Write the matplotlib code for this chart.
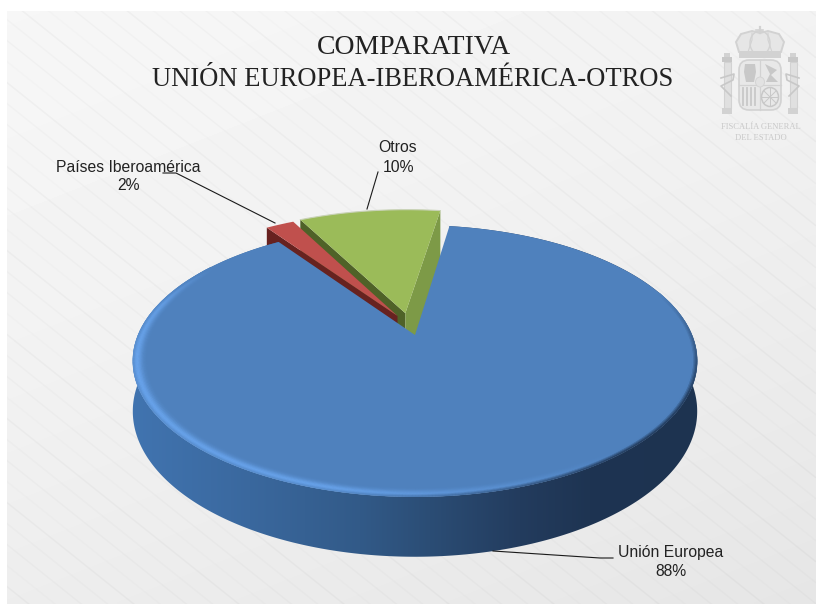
import numpy as np
import matplotlib
matplotlib.use("Agg")
import matplotlib.pyplot as plt
from matplotlib.collections import LineCollection, PolyCollection
from matplotlib.patches import Ellipse, FancyBboxPatch, Polygon, Rectangle

# Data
categories = ["Unión Europea", "Países Iberoamérica", "Otros"]
shares = [88, 2, 10]
top_colors = ["#4f81bd", "#c0504d", "#9bbb59"]
label_lines = ["COMPARATIVA", "UNIÓN EUROPEA-IBEROAMÉRICA-OTROS"]
crest_lines = ["FISCALÍA GENERAL", "DEL ESTADO"]

# Slices pulled out of the pie, as shifts on the unit disk
slice_shift = {"Unión Europea": (0.0, 0.0),
               "Países Iberoamérica": (-0.065, 0.15),
               "Otros": (-0.036, 0.172)}

# Pie projection: a unit disk seen through a simple perspective camera
CX, CY = 415.0, 335.0
A, B, K = 277.0, 130.9, 0.191
THICK = 48.5
START = 8.5  # compass angle of the first slice edge, clockwise


def project(u, v):
    w = 1 + K * v
    return CX + A * u / w, CY - B * v / w, THICK / w


def disk(theta_deg, r=1.0):
    t = np.radians(theta_deg)
    return r * np.sin(t), r * np.cos(t)


def hexrgb(c):
    return np.array(matplotlib.colors.to_rgb(c))


def slice_top(a0, a1, off, n=160):
    th = np.linspace(a0, a1, n)
    u, v = disk(th)
    sx, sy, _ = project(np.r_[off[0], u + off[0]], np.r_[off[1], v + off[1]])
    return np.column_stack([sx, sy])


def edge_face(theta, off, depth=1.25):
    # The lower part of a cut face runs behind the blue slice, which hides it
    u, v = disk(theta)
    x0, y0, t0 = project(off[0], off[1])
    x1, y1, t1 = project(u + off[0], v + off[1])
    return [(x0, y0), (x1, y1), (x1, y1 + depth * t1), (x0, y0 + depth * t0)]


fig = plt.figure(figsize=(8.16, 6.10), dpi=100, facecolor="white")
ax = fig.add_axes([0, 0, 1, 1])
ax.set_xlim(0, 816)
ax.set_ylim(610, 0)
ax.axis("off")

# Textured paper panel
gx, gy = np.meshgrid(np.linspace(0, 1, 200), np.linspace(0, 1, 150))
shade = 0.965 - 0.065 * (0.35 * gx + 0.65 * gy) ** 1.4
ax.imshow(shade, extent=(7, 816, 604, 11), cmap="gray", vmin=0, vmax=1,
          aspect="auto", zorder=0, interpolation="bilinear")
segs, alphas = [], []
for i, b in enumerate(np.arange(-700, 640, 21.0)):
    segs.append([(0, b), (816, b + 816 * 0.80)])
    alphas.append((0.5, 0.5, 0.5, (0.025, 0.06, 0.035, 0.045)[i % 4]))
streaks = LineCollection(segs, colors=alphas, linewidths=1.1, zorder=1)
ax.add_collection(streaks)
streaks.set_clip_path(Rectangle((7, 11), 809, 593, transform=ax.transData))

# Angular extents follow the shares, clockwise from START
angles = np.cumsum([0] + [s * 3.6 for s in shares]) + START
spans = {c: (angles[i], angles[i + 1]) for i, c in enumerate(categories)}
color_of = dict(zip(categories, top_colors))

# Green slice: both cut faces, the top, and a pale outer edge
c = "Otros"
off = slice_shift[c]
ax.add_patch(Polygon(edge_face(spans[c][0], off), color="#4f6228", zorder=2, lw=0))
ax.add_patch(Polygon(edge_face(spans[c][1], off), color="#7d9a47", zorder=2, lw=0))
ax.add_patch(Polygon(slice_top(*spans[c], off), color=color_of[c], zorder=3, lw=0))
arc = slice_top(*spans[c], off)[1:]
ax.plot(arc[:, 0], arc[:, 1], color="#c9d2b8", lw=0.8, zorder=3)

# Red slice
c = "Países Iberoamérica"
off = slice_shift[c]
ax.add_patch(Polygon(edge_face(spans[c][0], off), color="#672220", zorder=4, lw=0))
ax.add_patch(Polygon(slice_top(*spans[c], off), color=color_of[c], zorder=5, lw=0))

# Blue slice: outer wall, a horizontal gradient clipped to the wall outline
c = "Unión Europea"
a0, a1 = spans[c]
th = np.linspace(a0, a1, 700)
u, v = disk(th)
sx, sy, st = project(u, v)
stops_x = [132, 250, 360, 430, 520, 590, 700]
stops_c = np.array([hexrgb(h) for h in
                    ["#4174b0", "#3a689e", "#325a88", "#2b4d75", "#233c5e", "#1e3452", "#1d3350"]])
grad_x = np.linspace(125, 705, 400)
grad = np.stack([np.interp(grad_x, stops_x, stops_c[:, k]) for k in range(3)], axis=-1)[None, :, :]
wall = ax.imshow(grad, extent=(125, 705, 565, 220), aspect="auto", zorder=6, interpolation="bilinear")
wall_outline = np.vstack([np.column_stack([sx, sy]), np.column_stack([sx, sy + st])[::-1]])
wall.set_clip_path(Polygon(wall_outline, transform=ax.transData))
ax.add_patch(Polygon(slice_top(a0, a1, (0, 0), 700), color=color_of[c], zorder=7, lw=0))

# Bevelled rim: a bright lip on the lit side, soft falloff on the shaded side
top_rgb = hexrgb(color_of[c])
glow = hexrgb("#69a4ec")
radii = np.linspace(0.945, 1.0, 14)
rim_th = np.linspace(70, 305, 420)
quads, cols = [], []
for j in range(len(radii) - 1):
    rm = (radii[j] + radii[j + 1]) / 2
    sigma = 0.018 if rm < 0.987 else 0.014
    lip = np.exp(-((rm - 0.987) / sigma) ** 2)
    fall = np.clip((rm - 0.985) / 0.015, 0, 1)
    for i in range(len(rim_th) - 1):
        am = (rim_th[i] + rim_th[i + 1]) / 2
        lit = np.interp(am, [140, 195, 262, 285, 305], [0, 0.95, 1, 0.8, 0])
        fade = np.interp(am, [70, 115, 265, 305], [0, 1, 1, 0])
        pts = []
        for a, r in ((rim_th[i], radii[j]), (rim_th[i + 1], radii[j]),
                     (rim_th[i + 1], radii[j + 1]), (rim_th[i], radii[j + 1])):
            p = project(*disk(a, r))
            pts.append((p[0], p[1]))
        wall_rgb = np.array([np.interp(pts[0][0], stops_x, stops_c[:, k]) for k in range(3)])
        col = top_rgb + (glow - top_rgb) * lip * lit
        col = col + (wall_rgb - col) * fall * fade * (1 - 0.95 * lit)
        quads.append(pts)
        cols.append(col)
ax.add_collection(PolyCollection(quads, facecolors=cols, edgecolors=cols, linewidths=0.3, zorder=8))

# Title
serif = "Liberation Serif"
ax.text(413.5, 48, label_lines[0], family=serif, fontsize=20, ha="center", va="center", color="#222222", zorder=10)
ax.text(412.5, 79, label_lines[1], family=serif, fontsize=19.1, ha="center", va="center", color="#222222", zorder=10)

# Data labels with leader lines
sans = "Liberation Sans"
pct = {n: f"{s}%" for n, s in zip(categories, shares)}
label_pos = {"Países Iberoamérica": (128, 167, 185), "Otros": (398, 148, 167), "Unión Europea": (671, 553, 572)}
leaders = {"Países Iberoamérica": [(163, 173), (176, 173), (275, 223)],
           "Otros": [(378, 172), (367, 209)],
           "Unión Europea": [(493, 551), (600, 558), (613, 558)]}
for n in categories:
    x, y0, y1 = label_pos[n]
    ax.text(x, y0, n, family=sans, fontsize=11.3, ha="center", va="center", color="#222222", zorder=11)
    ax.text(x, y1, pct[n], family=sans, fontsize=11.3, ha="center", va="center", color="#222222", zorder=11)
    xs, ys = zip(*leaders[n])
    ax.plot(xs, ys, color="#1a1a1a", lw=0.8, zorder=10)

# Faded coat of arms
ink = "#d2d2d2"
ink2 = "#c8c8c8"
z = 3
# crown
ax.add_patch(Polygon([(739, 52), (736, 42), (741, 34), (752, 31), (760, 33), (768, 31),
                      (779, 34), (784, 42), (781, 52)], fc="#e6e6e6", ec=ink, lw=1.4, zorder=z))
ax.add_patch(Ellipse((760, 43), 20, 24, fc="none", ec=ink, lw=1.0, zorder=z))
ax.plot([748, 752, 752], [52, 40, 33], color=ink, lw=0.8, zorder=z)
ax.plot([772, 768, 768], [52, 40, 33], color=ink, lw=0.8, zorder=z)
ax.add_patch(Rectangle((739, 52), 42, 6, fc=ink, ec="none", zorder=z))
ax.plot([759.5, 759.5], [27, 33], color=ink, lw=1.6, zorder=z)
ax.plot([756, 763], [29.5, 29.5], color=ink, lw=1.2, zorder=z)
# shield
ax.add_patch(FancyBboxPatch((739, 60), 42, 50, boxstyle="round,pad=0,rounding_size=10",
                            fc="#e8e8e8", ec=ink, lw=1.2, zorder=z))
ax.plot([760, 760], [60, 110], color=ink, lw=0.9, zorder=z)
ax.plot([739, 781], [85, 85], color=ink, lw=0.9, zorder=z)
ax.add_patch(Polygon([(745, 64), (755, 64), (756, 72), (754, 82), (746, 82), (744, 72)], color=ink2, lw=0, zorder=z))
ax.add_patch(Polygon([(765, 64), (777, 70), (771, 75), (778, 82), (766, 82), (770, 74)], color=ink2, lw=0, zorder=z))
for x in range(743, 757, 4):
    ax.plot([x, x], [88, 105], color=ink2, lw=1.3, zorder=z)
ax.add_patch(Ellipse((770, 97), 17, 19, fc="none", ec=ink2, lw=1.1, zorder=z))
ax.plot([762, 778], [97, 97], color=ink2, lw=0.7, zorder=z)
ax.plot([770, 770], [88, 106], color=ink2, lw=0.7, zorder=z)
ax.plot([764, 776], [91, 103], color=ink2, lw=0.7, zorder=z)
ax.plot([764, 776], [103, 91], color=ink2, lw=0.7, zorder=z)
ax.add_patch(Ellipse((760, 82), 9, 10, fc="#e2e2e2", ec=ink, lw=0.6, zorder=z))
# pillars
for x, s in ((727, 1), (793, -1)):
    ax.add_patch(Rectangle((x - 3.5, 62), 7, 46, fc="#e0e0e0", ec=ink, lw=0.8, zorder=z))
    ax.add_patch(Rectangle((x - 5, 108), 10, 6, fc=ink, ec="none", zorder=z))
    ax.add_patch(Rectangle((x - 5, 57), 10, 5, fc=ink2, ec="none", zorder=z))
    ax.add_patch(Rectangle((x - 3, 53), 6, 4, fc=ink, ec="none", zorder=z))
    ax.plot([x - 6 * s, x + 7 * s, x + 6 * s, x - 6 * s, x + 4 * s],
            [78, 74, 80, 86, 96], color=ink2, lw=1.2, zorder=z)
ax.text(760.5, 127, crest_lines[0], family=serif, fontsize=6.1, ha="center", va="center", color="#c8c8c8", zorder=z)
ax.text(760.5, 138, crest_lines[1], family=serif, fontsize=6.1, ha="center", va="center", color="#c8c8c8", zorder=z)

fig.savefig("out.png", dpi=100, facecolor="white")
